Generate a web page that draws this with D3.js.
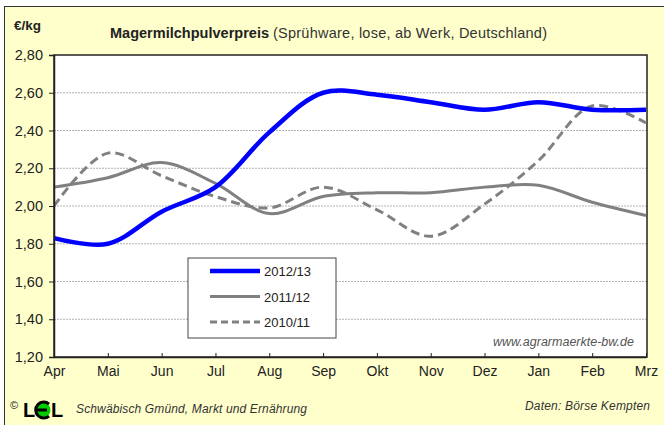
<!DOCTYPE html>
<html>
<head>
<meta charset="utf-8">
<script src="https://cdn.jsdelivr.net/npm/d3@7"></script>
<style>
  body { margin: 0; background: #fff; }
  svg { display: block; font-family: 'Liberation Sans', Arial, sans-serif; }
</style>
</head>
<body>
<div id="chart"></div>
<script>
const months = ['Apr', 'Mai', 'Jun', 'Jul', 'Aug', 'Sep', 'Okt', 'Nov', 'Dez', 'Jan', 'Feb', 'Mrz']
const yTicks = [1.2, 1.4, 1.6, 1.8, 2.0, 2.2, 2.4, 2.6, 2.8]

const price1213 = [1.83, 1.80, 1.97, 2.10, 2.39, 2.60, 2.59, 2.55, 2.51, 2.55, 2.51, 2.51]
const price1112 = [2.10, 2.15, 2.23, 2.12, 1.96, 2.05, 2.07, 2.07, 2.10, 2.11, 2.02, 1.95]
const price1011 = [2.00, 2.28, 2.16, 2.05, 1.99, 2.10, 1.98, 1.84, 2.01, 2.24, 2.53, 2.44]

const series = [
  { name: '2012/13', values: price1213, color: '#0000ff', width: 4.5, dash: null },
  { name: '2011/12', values: price1112, color: '#808080', width: 3, dash: null },
  { name: '2010/11', values: price1011, color: '#808080', width: 3, dash: '9,5' }
]

const margin = { top: 55, left: 54, right: 17, bottom: 68 }
const width = 664 - margin.left - margin.right
const height = 425 - margin.top - margin.bottom

const svg = d3.select('#chart')
  .append('svg')
  .attr('width', 664)
  .attr('height', 425)

// background panel
svg.append('rect')
  .attr('x', 0).attr('y', 0).attr('width', 664).attr('height', 425)
  .attr('fill', '#ffffff')
svg.append('rect')
  .attr('x', 4.5).attr('y', 6.5).attr('width', 670).attr('height', 430)
  .attr('fill', '#ffffcc')
  .attr('stroke', '#333')
  .attr('stroke-width', 1)

const g = svg.append('g')
  .attr('transform', 'translate(' + margin.left + ',' + margin.top + ')')

const xPositionScale = d3.scalePoint()
  .domain(months)
  .range([0, width - 1])

const yPositionScale = d3.scaleLinear()
  .domain([1.2, 2.8])
  .range([height, 0])

g.append('rect')
  .attr('width', width).attr('height', height)
  .attr('fill', '#fff')

// gridlines
g.selectAll('.grid')
  .data(yTicks.slice(1, -1))
  .enter()
  .append('line')
  .attr('x1', 0).attr('x2', width)
  .attr('y1', d => yPositionScale(d)).attr('y2', d => yPositionScale(d))
  .attr('stroke', '#b0b0b0')
  .attr('stroke-width', 1)
  .attr('stroke-dasharray', '2,1')

// border
g.append('rect')
  .attr('width', width).attr('height', height)
  .attr('fill', 'none')
  .attr('stroke', '#222')
  .attr('stroke-width', 1.5)

const line = d3.line()
  .x((d, i) => xPositionScale(months[i]))
  .y(d => yPositionScale(d))
  .curve(d3.curveCatmullRom.alpha(0.5))

g.selectAll('.series')
  .data(series.slice().reverse())
  .enter()
  .append('path')
  .attr('d', d => line(d.values))
  .attr('fill', 'none')
  .attr('stroke', d => d.color)
  .attr('stroke-width', d => d.width)
  .attr('stroke-dasharray', d => d.dash)

// axes
const yAxis = d3.axisLeft(yPositionScale)
  .tickValues(yTicks)
  .tickSize(5)
  .tickFormat(d => d3.format('.2f')(d).replace('.', ','))
const yg = g.append('g').call(yAxis)
yg.select('.domain').attr('stroke', '#222').attr('stroke-width', 1.5)
yg.selectAll('.tick line').attr('stroke', '#222')
yg.selectAll('text').attr('font-size', 14.5).attr('fill', '#222').attr('x', -11)

const xAxis = d3.axisBottom(xPositionScale).tickSize(5).tickSizeOuter(0)
const xg = g.append('g')
  .attr('transform', 'translate(0,' + height + ')')
  .call(xAxis)
xg.select('.domain').attr('stroke', '#222').attr('stroke-width', 1.5)
xg.selectAll('.tick line').attr('stroke', '#222').attr('y1', -4).attr('y2', 0)
xg.selectAll('text').attr('font-size', 14).attr('fill', '#222').attr('dy', '1.3em')
  .attr('y', 1)

// legend
const legend = g.append('g').attr('transform', 'translate(134,203)')
legend.append('rect')
  .attr('width', 148).attr('height', 80)
  .attr('fill', '#fff')
  .attr('stroke', '#444')
  .attr('stroke-width', 1)
legend.selectAll('.item')
  .data(series)
  .enter()
  .append('g')
  .attr('transform', (d, i) => 'translate(0,' + (13 + i * 25.5) + ')')
  .each(function(d) {
    const item = d3.select(this)
    item.append('line')
      .attr('x1', 22).attr('x2', 72)
      .attr('stroke', d.color)
      .attr('stroke-width', d.width)
      .attr('stroke-dasharray', d.dash ? '7,4' : null)
    item.append('text')
      .text(d.name)
      .attr('x', 76).attr('y', 5)
      .attr('font-size', 13)
      .attr('fill', '#222')
  })

// titles
svg.append('text')
  .text('€/kg')
  .attr('x', 14).attr('y', 30)
  .attr('font-size', 13.5).attr('font-weight', 'bold').attr('fill', '#222')

svg.append('text')
  .text('Magermilchpulverpreis')
  .attr('x', 110).attr('y', 38)
  .attr('font-size', 14.5).attr('font-weight', 'bold').attr('fill', '#222')
  .attr('textLength', 159)
svg.append('text')
  .text('(Sprühware, lose, ab Werk, Deutschland)')
  .attr('x', 273).attr('y', 38)
  .attr('font-size', 14.5).attr('fill', '#333')
  .attr('textLength', 274)

svg.append('text')
  .text('www.agrarmaerkte-bw.de')
  .attr('x', 634).attr('y', 346)
  .attr('text-anchor', 'end')
  .attr('font-size', 12.5).attr('font-style', 'italic').attr('fill', '#555')

// footer
svg.append('text').text('©')
  .attr('x', 10).attr('y', 409).attr('font-size', 11).attr('fill', '#222')
svg.append('text').text('L')
  .attr('x', 23).attr('y', 417).attr('font-size', 20).attr('font-weight', 'bold').attr('fill', '#000')
svg.append('circle')
  .attr('cx', 43).attr('cy', 410).attr('r', 7.5)
  .attr('fill', '#00cc00')
svg.append('path')
  .attr('d', 'M49,404 A8,8 0 1 0 49,416 M36,410 L47,410')
  .attr('fill', 'none').attr('stroke', '#000').attr('stroke-width', 3)
svg.append('text').text('L')
  .attr('x', 51).attr('y', 417).attr('font-size', 20).attr('font-weight', 'bold').attr('fill', '#000')
svg.append('text')
  .text('Schwäbisch Gmünd, Markt und Ernährung')
  .attr('x', 76).attr('y', 413)
  .attr('font-size', 12).attr('font-style', 'italic').attr('fill', '#333')
  .attr('textLength', 231)
svg.append('text')
  .text('Daten: Börse Kempten')
  .attr('x', 650).attr('y', 410)
  .attr('text-anchor', 'end')
  .attr('font-size', 12).attr('font-style', 'italic').attr('fill', '#333')
  .attr('textLength', 125)
</script>
</body>
</html>
